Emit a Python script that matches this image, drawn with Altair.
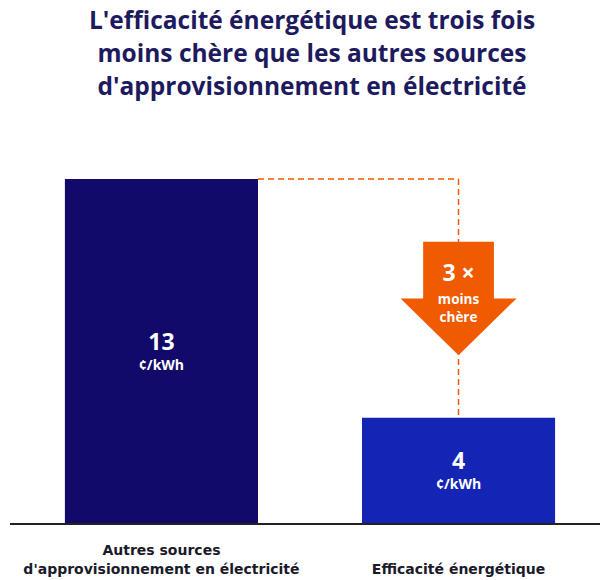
import altair as alt
import pandas as pd

categories = ["Autres sources|d'approvisionnement en électricité", "Efficacité énergétique"]
values = [13, 4]
value_labels = ["13", "4"]
unit_labels = ["¢/kWh", "¢/kWh"]
bar_colors = ["#120a6a", "#1425b5"]
ratio_label = "3 ×"
ratio_words = ["moins", "chère"]
title_lines = [
    "L'efficacité énergétique est trois fois",
    "moins chère que les autres sources",
    "d'approvisionnement en électricité",
]

ORANGE = "#f05a00"
W, H = 590, 398

bars_df = pd.DataFrame({"cat": categories, "value": values, "label": value_labels,
                        "unit": unit_labels, "color": bar_colors})
conn_df = pd.DataFrame({"from": [categories[0]], "to": [categories[1]],
                        "top": [values[0]], "bottom": [values[1]]})

xscale = alt.Scale(domain=categories, paddingInner=0.35, paddingOuter=0.168, align=0.55)
yscale = alt.Scale(domain=[0, 15], nice=False)

xaxis = alt.Axis(title=None, domain=False, ticks=False, labelAngle=0,
                 labelExpr="length(split(datum.label, '|')) > 1 ? split(datum.label, '|') : ['', datum.label]",
                 labelFont="DejaVu Sans", labelFontSize=14, labelFontWeight="bold",
                 labelColor="#1a1a2a", labelLineHeight=19, labelBaseline="top",
                 labelPadding=19, labelLimit=500)

base = alt.Chart(bars_df)

bars = base.mark_bar().encode(
    x=alt.X("cat:N", scale=xscale, axis=xaxis, sort=categories),
    y=alt.Y("value:Q", scale=yscale, axis=None),
    color=alt.Color("color:N", scale=None),
)

num_text = base.transform_calculate(mid="datum.value/2").mark_text(
    font="Open Sans", fontSize=23, fontWeight="bold", color="white", dy=-9
).encode(x=alt.X("cat:N", sort=categories), y="mid:Q", text="label:N")

unit_text = base.transform_calculate(mid="datum.value/2").mark_text(
    font="Open Sans", fontSize=14, fontWeight="bold", color="white", dy=14
).encode(x=alt.X("cat:N", sort=categories), y="mid:Q", text="unit:N")

conn = alt.Chart(conn_df)

h_rule = conn.mark_rule(color=ORANGE, strokeDash=[6, 4], strokeWidth=1.5).encode(
    x=alt.X("from:N", bandPosition=1),
    x2=alt.X2("to", bandPosition=0.5),
    y="top:Q",
)
v_rule = conn.mark_rule(color=ORANGE, strokeDash=[6, 4], strokeWidth=1.5).encode(
    x=alt.X("to:N"), y="top:Q", y2="bottom",
)

arrow_path = "M -0.61 -0.98 L 0.61 -0.98 L 0.61 0 L 1 0 L 0 0.98 L -1 0 L -0.61 0 Z"
arrow = conn.transform_calculate(mid="(datum.top + datum.bottom)/2").mark_point(
    shape=arrow_path, filled=True, size=13456, color=ORANGE, opacity=1, strokeWidth=0
).encode(x="to:N", y="mid:Q")

arrow_text = conn.transform_calculate(mid="(datum.top + datum.bottom)/2", t=f"'{ratio_label}'").mark_text(
    font="Open Sans", fontSize=23, fontWeight="bold", color="white", dy=-24
).encode(x="to:N", y="mid:Q", text="t:N")
arrow_w1 = conn.transform_calculate(mid="(datum.top + datum.bottom)/2", t=f"'{ratio_words[0]}'").mark_text(
    font="Open Sans", fontSize=13.5, fontWeight="bold", color="white", dy=2
).encode(x="to:N", y="mid:Q", text="t:N")
arrow_w2 = conn.transform_calculate(mid="(datum.top + datum.bottom)/2", t=f"'{ratio_words[1]}'").mark_text(
    font="Open Sans", fontSize=13.5, fontWeight="bold", color="white", dy=20
).encode(x="to:N", y="mid:Q", text="t:N")

baseline = base.mark_rule(color="#222222", strokeWidth=2).encode(
    x=alt.value(0), x2=alt.value(W), y=alt.datum(0),
)

chart = alt.layer(bars, h_rule, v_rule, arrow, arrow_text, arrow_w1, arrow_w2,
                  num_text, unit_text, baseline).properties(
    width=W, height=H,
    autosize=alt.AutoSizeParams(type="none"),
    padding={"left": 10, "top": 126, "right": 0, "bottom": 56},
    title=alt.TitleParams(text=title_lines, font="Open Sans", fontSize=24.5, fontWeight="bold",
                          color="#1d1a5e", lineHeight=33, anchor="middle", offset=26, dx=7),
).configure_view(stroke=None)

chart.save("out.html", embed_options={"renderer": "svg", "actions": False})
